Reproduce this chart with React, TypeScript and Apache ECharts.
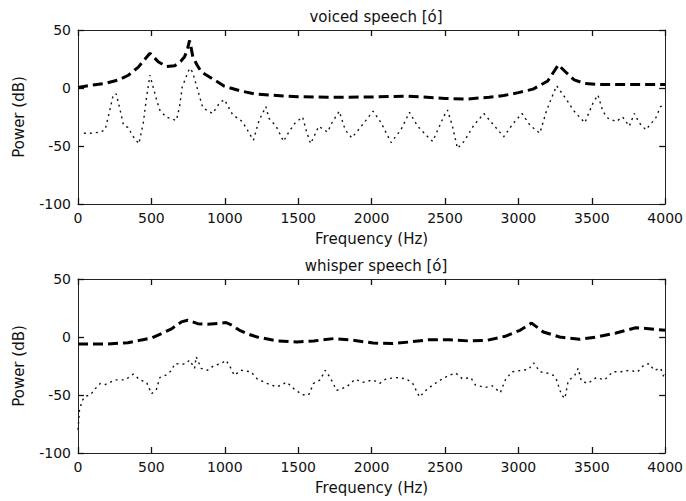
import React, { useEffect, useRef } from "react";
import * as echarts from "echarts";

// ---- data (frequency in Hz, power in dB) ----
const voicedEnvFreq = [0, 73, 186, 276, 343, 411, 450, 490, 546, 602, 659, 700, 726, 745, 760, 770, 782, 810, 839, 929, 997, 1100, 1200, 1300, 1400, 1500, 1700, 2000, 2250, 2500, 2650, 2800, 2900, 3000, 3100, 3200, 3272, 3320, 3380, 3450, 3550, 4000];
const voicedEnvDb = [0.5, 2, 4, 7, 11, 18, 24, 30, 22.7, 18.4, 19.2, 23, 27, 33, 41, 35, 27, 20, 14, 7, 1.5, -2.3, -5, -6, -7, -7.5, -8, -7.8, -7, -9, -9.5, -8, -6.5, -4, -1, 6, 20, 14, 7, 4, 3, 3];

const voicedSpecFreq = [40, 85, 150, 185, 215, 240, 260, 287, 310, 340, 377, 415, 445, 467, 490, 535, 557, 600, 670, 692, 710, 760, 780, 805, 850, 917, 963, 997, 1053, 1120, 1195, 1233, 1280, 1300, 1350, 1400, 1436, 1480, 1530, 1560, 1585, 1640, 1700, 1730, 1780, 1820, 1865, 1930, 2010, 2065, 2133, 2200, 2258, 2314, 2382, 2416, 2494, 2517, 2551, 2585, 2630, 2697, 2765, 2832, 2900, 2968, 3024, 3079, 3146, 3193, 3260, 3328, 3373, 3452, 3508, 3542, 3575, 3609, 3666, 3710, 3755, 3790, 3823, 3868, 3935, 3969, 4000];
const voicedSpecDb = [-39, -39, -38, -36, -20, -6, -5, -19, -32, -34, -42, -48, -30, -8, 11, -10, -19, -25, -28, -16, 1, 17, 14, 3, -17, -22, -13, -10, -23, -29, -45, -28, -16, -26, -33, -46, -38, -30, -25, -39, -48, -33, -38, -30, -20, -36, -43, -33, -20, -30, -47, -36, -21, -33, -42, -46, -24, -19, -33, -52, -46, -32, -22, -32, -42, -30, -22, -32, -39, -19, 2, -10, -19, -30, -13, -6, -20, -26, -29, -25, -33, -22, -30, -36, -26, -16, -14];

const whisperEnvFreq = [0, 100, 200, 340, 434, 500, 569, 637, 704, 747, 815, 882, 974, 1008, 1050, 1098, 1160, 1220, 1355, 1490, 1605, 1740, 1875, 2010, 2145, 2258, 2393, 2528, 2663, 2787, 2910, 3011, 3090, 3170, 3281, 3416, 3530, 3665, 3800, 3890, 4000];
const whisperEnvDb = [-6, -6, -6, -5, -2.5, -1, 3, 7, 13, 14.5, 11.5, 11, 12, 12.5, 10, 6, 2.5, 0, -3.4, -4.3, -3.4, -1.4, -2.8, -5.2, -5.7, -4.3, -2.3, -2.3, -3.4, -2.8, 0.6, 5.8, 12, 4.3, 0, -2, 0, 3.4, 8, 7.2, 5.8];

const whisperSpecFreq = [0, 10, 28, 50, 84, 118, 152, 186, 253, 321, 377, 422, 467, 501, 535, 557, 602, 636, 659, 726, 760, 794, 805, 839, 882, 929, 974, 1008, 1042, 1064, 1110, 1177, 1220, 1287, 1355, 1422, 1470, 1526, 1571, 1605, 1650, 1684, 1718, 1762, 1830, 1887, 1943, 2010, 2055, 2100, 2167, 2235, 2280, 2326, 2370, 2416, 2483, 2528, 2573, 2618, 2675, 2708, 2776, 2821, 2877, 2911, 2956, 3024, 3069, 3103, 3148, 3193, 3238, 3260, 3294, 3317, 3339, 3384, 3407, 3429, 3474, 3530, 3587, 3643, 3699, 3755, 3812, 3857, 3891, 3925, 3969, 3992, 4000];
const whisperSpecDb = [-80, -63, -55, -51, -50, -44.5, -40, -41, -37, -37, -32, -37, -39, -49, -45, -35, -32.7, -29, -23, -23.4, -20, -27, -17, -27, -28.7, -24.4, -23, -20, -27, -33, -28.7, -30, -36, -40, -43, -39, -44.5, -49.7, -50, -40, -37, -28.7, -35, -46, -43, -36.5, -39, -37, -40, -36, -35, -36, -40, -51.7, -46, -41.5, -36, -33, -31, -36, -35, -41.5, -43.5, -42, -48, -37, -30, -28.7, -28, -22.4, -30, -31, -33, -37, -50, -53, -38, -33, -27, -38, -40, -35, -37, -30, -30, -28.7, -30, -24, -23, -28.7, -27, -35, -32];

const titles = ["voiced speech [ó]", "whisper speech [ó]"];
const xName = "Frequency (Hz)";
const yName = "Power (dB)";

const zip = (f: number[], d: number[]) => f.map((v, i) => [v, d[i]]);

const FONT = "DejaVu Sans";
const AXIS_COLOR = "#222";

export default function App() {
  const ref = useRef<HTMLDivElement>(null);
  useEffect(() => {
    if (!ref.current) return;
    const chart = echarts.init(ref.current, undefined, { renderer: "svg" });
    const gridTops = [30, 279];
    const grids = gridTops.map((t) => ({ left: 78, top: t, width: 592, height: 174, containLabel: false }));
    const xAxes: any[] = [];
    const yAxes: any[] = [];
    const plain = (v: number) => String(v);
    const tick = () => ({ show: true, inside: true, length: 6, lineStyle: { color: "#111", width: 1.3 } });
    const line = () => ({ show: true, onZero: false, lineStyle: { color: AXIS_COLOR, width: 1 } });
    gridTops.forEach((_, g) => {
      xAxes.push({
        gridIndex: g,
        type: "value",
        position: "bottom",
        min: 0,
        max: 4000,
        interval: 500,
        axisLine: line(),
        axisTick: tick(),
        splitLine: { show: false },
        name: xName,
        nameLocation: "middle",
        nameGap: 27,
        nameTextStyle: { fontFamily: FONT, fontSize: 15, color: "#111" },
        axisLabel: { show: true, margin: 7, fontFamily: FONT, fontSize: 14, color: "#111", formatter: plain },
      });
      xAxes.push({
        gridIndex: g,
        type: "value",
        position: "top",
        min: 0,
        max: 4000,
        interval: 500,
        axisLine: line(),
        axisTick: tick(),
        splitLine: { show: false },
        axisLabel: { show: false },
      });
      yAxes.push({
        gridIndex: g,
        type: "value",
        position: "left",
        min: -100,
        max: 50,
        interval: 50,
        axisLine: line(),
        axisTick: tick(),
        splitLine: { show: false },
        name: yName,
        nameLocation: "middle",
        nameGap: 52,
        nameTextStyle: { fontFamily: FONT, fontSize: 15, color: "#111" },
        axisLabel: { show: true, margin: 7, fontFamily: FONT, fontSize: 14, color: "#111", formatter: plain },
      });
      yAxes.push({
        gridIndex: g,
        type: "value",
        position: "right",
        min: -100,
        max: 50,
        interval: 50,
        axisLine: line(),
        axisTick: tick(),
        splitLine: { show: false },
        axisLabel: { show: false },
      });
    });
    const dashed = { color: "#000", width: 3, type: [10, 5] as any };
    const dotted = { color: "#111", width: 1.4, type: [2, 4] as any };
    const mk = (data: number[][], g: number, style: any) => ({
      type: "line",
      xAxisIndex: g * 2,
      yAxisIndex: g * 2,
      data,
      symbol: "none",
      showSymbol: false,
      lineStyle: style,
      silent: true,
    });
    chart.setOption({
      animation: false,
      backgroundColor: "#fff",
      title: titles.map((t, i) => ({
        text: t,
        left: 371,
        top: i === 0 ? 4 : 253,
        textAlign: "center",
        textStyle: { fontFamily: FONT, fontSize: 15, fontWeight: "normal", color: "#111" },
      })),
      grid: grids,
      xAxis: xAxes,
      yAxis: yAxes,
      series: [
        mk(zip(voicedSpecFreq, voicedSpecDb), 0, dotted),
        mk(zip(voicedEnvFreq, voicedEnvDb), 0, dashed),
        mk(zip(whisperSpecFreq, whisperSpecDb), 1, dotted),
        mk(zip(whisperEnvFreq, whisperEnvDb), 1, dashed),
      ],
    });
    return () => chart.dispose();
  }, []);
  return (
    <div
      ref={ref}
      style={{ position: "fixed", left: 0, top: 0, width: 686, height: 501, background: "#fff" }}
    />
  );
}
